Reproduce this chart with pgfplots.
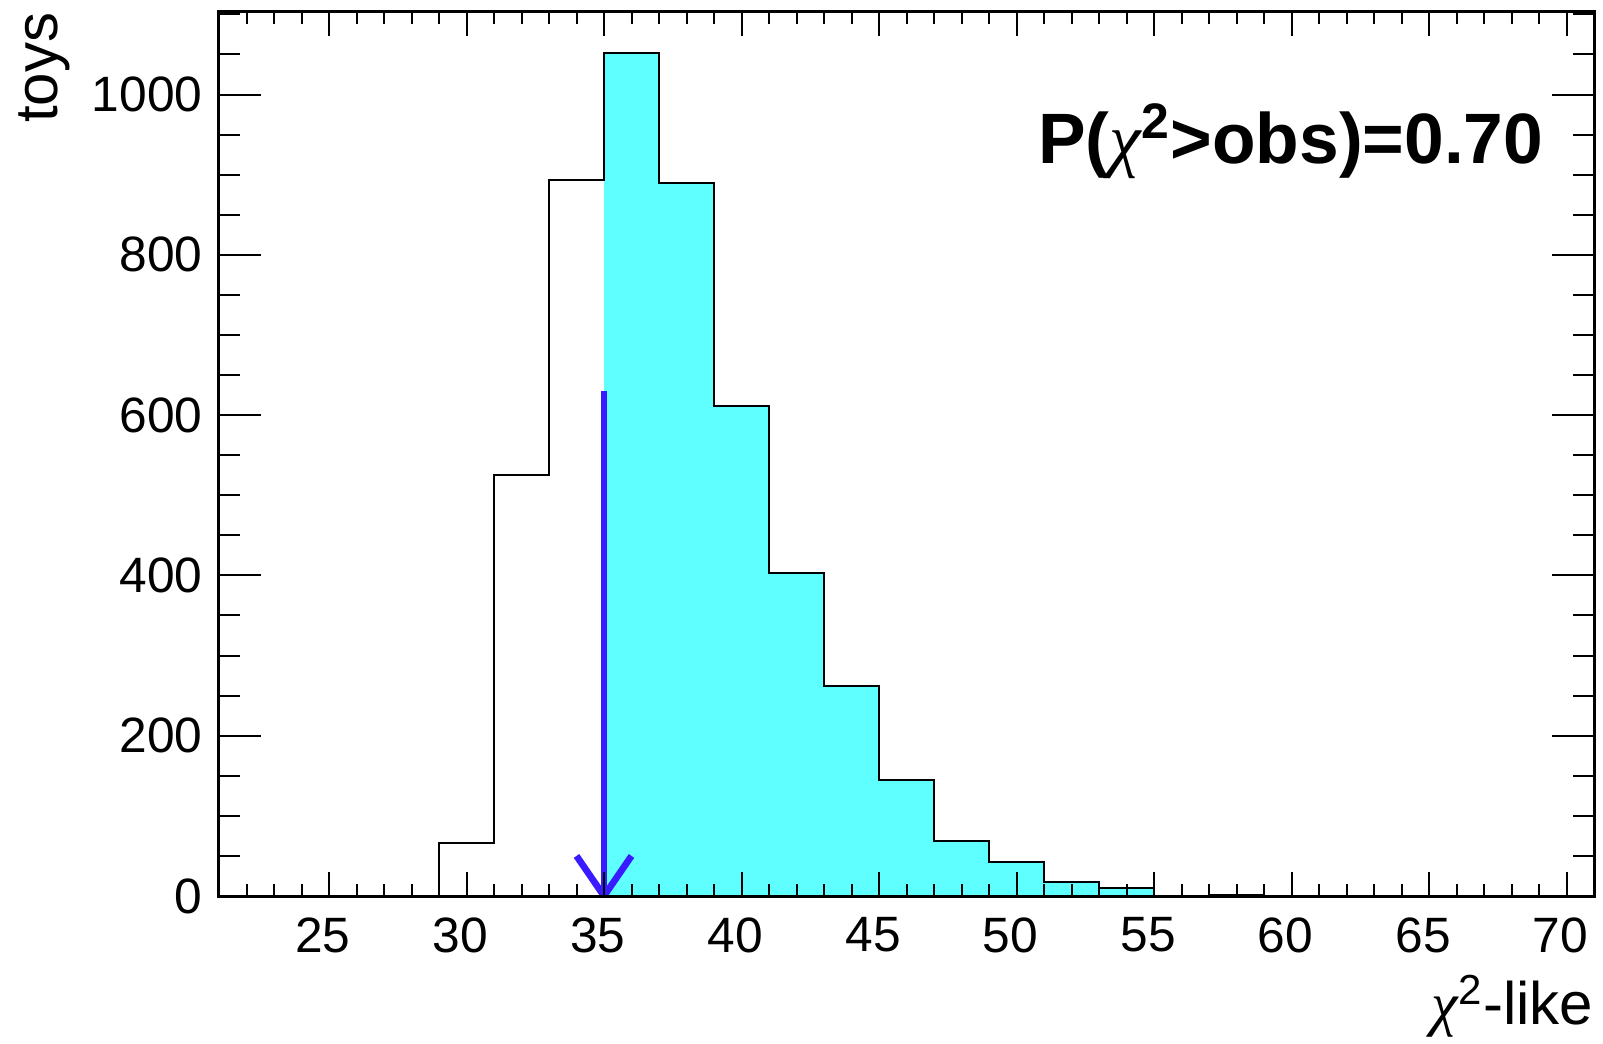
\documentclass[border=0pt]{standalone}
\usepackage{fontspec}
\setmainfont{Liberation Sans}
\newfontfamily\chifont{Liberation Serif}
\usepackage{pgfplots}
\pgfplotsset{compat=1.18}
\definecolor{histcyan}{RGB}{96,255,255}
\definecolor{arrowblue}{RGB}{56,28,255}
\newcommand{\chisym}{{\chifont\itshape χ}}
\begin{document}
\begin{tikzpicture}
\begin{axis}[
  name=ax,
  width=412.5pt, height=265.2pt, scale only axis,
  xmin=21, xmax=71, ymin=0, ymax=1103,
  xtick={25,30,...,70},
  minor xtick={22,23,...,70},
  ytick={0,200,...,1000},
  minor ytick={50,100,...,1100},
  tick align=inside,
  xtick pos=both, ytick pos=both,
  xticklabel pos=lower, yticklabel pos=left,
  axis line style={line width=0.9pt},
  every tick/.style={black, line width=0.6pt},
  major tick length=12.6pt, minor tick length=6.3pt,
  x tick style={/pgfplots/major tick length=7.3pt, /pgfplots/minor tick length=3.6pt},
  /pgf/number format/assume math mode=true,
  /pgf/number format/1000 sep={},
  ticklabel style={font=\fontsize{14.9}{16}\selectfont},
  xticklabel style={anchor=north, inner sep=0pt, yshift=-6.2pt, xshift=-1.8pt},
  yticklabel style={anchor=east, inner sep=0pt, xshift=-4.8pt},
  every axis x label/.style={at={(axis description cs:1,-0.1459)}, anchor=base east, inner sep=0pt, font=\fontsize{18}{20}\selectfont},
  every axis y label/.style={at={(axis description cs:-0.1171,1)}, rotate=90, anchor=base east, inner sep=0pt, font=\fontsize{18}{20}\selectfont},
  xlabel={\chisym\textsuperscript{2}-like},
  ylabel={toys},
  axis on top,
]
% cyan part (bins above observed value)
\addplot[const plot mark left, fill=histcyan, draw=none] coordinates {
  (35,0) (35,1052) (37,890) (39,611) (41,403) (43,262) (45,145) (47,69) (49,42) (51,18) (53,10) (55,0) (57,1) (59,0) (71,0)
} \closedcycle;
% full histogram outline
\addplot[const plot mark left, black, line width=0.6pt] coordinates {
  (21,0) (23,0) (25,0) (27,0) (29,66) (31,525) (33,893) (35,1052) (37,890) (39,611) (41,403) (43,262) (45,145) (47,69) (49,42) (51,18) (53,10) (55,0) (57,1) (59,0) (61,0) (63,0) (65,0) (67,0) (69,0) (71,0)
};
% observed value arrow
\addplot[arrowblue, line width=2pt] coordinates {(35,630) (35,0)};
\addplot[arrowblue, line width=2pt, line join=miter] coordinates {(34,50) (35,0) (36,50)};
\node[anchor=base east, inner sep=0pt, font=\fontsize{21.4}{24}\selectfont\bfseries] at (axis description cs:0.9636,0.8286) {P({\mdseries\chisym}\textsuperscript{2}>obs)=0.70};
\end{axis}
\pgfresetboundingbox
\path[use as bounding box] ([xshift=-65.7pt,yshift=-44.1pt]ax.south west) rectangle ([xshift=2.7pt,yshift=3.6pt]ax.north east);
\end{tikzpicture}
\end{document}
